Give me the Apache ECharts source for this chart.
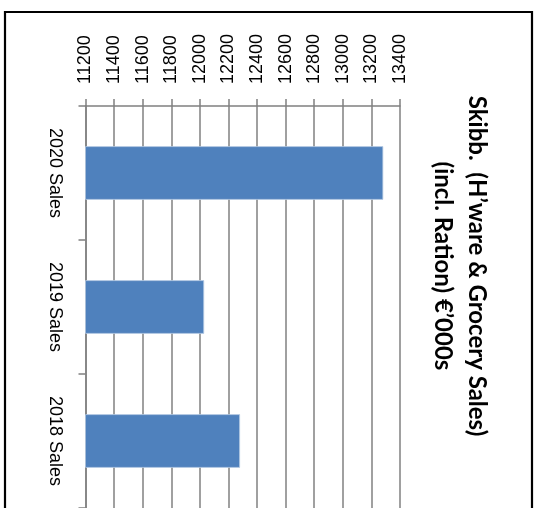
<!DOCTYPE html>
<html>
<head>
<meta charset="utf-8">
<script src="https://cdn.jsdelivr.net/npm/echarts@6/dist/echarts.min.js"></script>
<style>
  html, body { margin: 0; padding: 0; background: #fff; }
  #chart { width: 539px; height: 508px; }
</style>
</head>
<body>
<div id="chart"></div>
<script>
// Data
const categories = ['2020 Sales', '2019 Sales', '2018 Sales'];
const salesValues = [13283, 12030, 12281];
const valueTicks = { min: 11200, max: 13400, interval: 200 };
const titleLines = ['Skibb.  (H\u2019ware & Grocery Sales)', '(incl. Ration) \u20AC\u2019000s'];

const chart = echarts.init(document.getElementById('chart'), null, { renderer: 'canvas' });
const axisGray = '#808080';
chart.setOption({
  animation: false,
  backgroundColor: '#ffffff',
  grid: { left: 85.5, right: 139, top: 106, height: 410, containLabel: false },
  xAxis: {
    type: 'value',
    position: 'top',
    min: valueTicks.min,
    max: valueTicks.max,
    interval: valueTicks.interval,
    axisLine: { show: true, lineStyle: { color: axisGray, width: 1.5 } },
    axisTick: { show: true, inside: false, length: 7, lineStyle: { color: axisGray, width: 1.5 } },
    splitLine: { show: true, lineStyle: { color: axisGray, width: 1.5 } },
    axisLabel: {
      rotate: -90,
      margin: 22,
      color: '#000',
      fontFamily: 'Liberation Sans, Arial, sans-serif',
      fontSize: 18,
      formatter: function (v) { return String(v); }
    }
  },
  yAxis: {
    type: 'category',
    data: categories,
    inverse: true,
    position: 'left',
    boundaryGap: true,
    axisLine: { show: true, lineStyle: { color: axisGray, width: 1.5 } },
    axisTick: { show: true, inside: false, length: 7, alignWithLabel: false, lineStyle: { color: axisGray, width: 1.5 } },
    splitLine: { show: false },
    axisLabel: {
      rotate: -90,
      interval: 0,
      margin: 22,
      color: '#000',
      fontFamily: 'Liberation Sans, Arial, sans-serif',
      fontSize: 18
    }
  },
  series: [{
    type: 'bar',
    data: salesValues,
    barWidth: '40%',
    itemStyle: { color: '#4f81bd', borderColor: '#b9cde5', borderWidth: 0.8 }
  }],
  graphic: [
    {
      type: 'rect',
      shape: { x: 5, y: 12, width: 527, height: 530 },
      style: { fill: 'none', stroke: '#000', lineWidth: 2.2 },
      z: 100
    },
    {
      type: 'text',
      x: 460,
      y: 266,
      rotation: -Math.PI / 2,
      style: {
        text: titleLines.join('\n'),
        align: 'center',
        verticalAlign: 'middle',
        font: 'bold 24px Lato, "Open Sans", sans-serif',
        lineHeight: 34,
        fill: '#000'
      },
      z: 100
    }
  ]
});
</script>
</body>
</html>
